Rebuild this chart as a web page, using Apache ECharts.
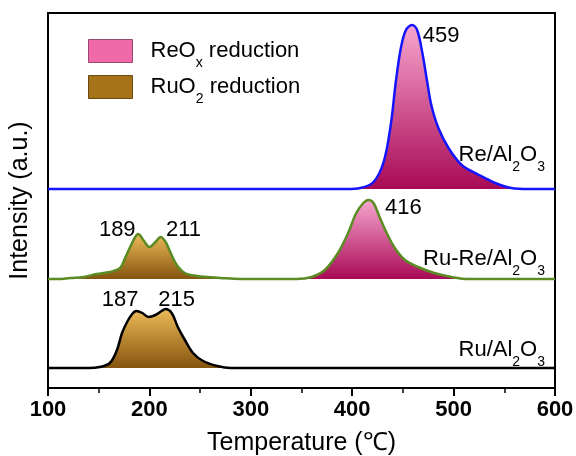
<!DOCTYPE html>
<html>
<head>
<meta charset="utf-8">
<script src="https://cdn.jsdelivr.net/npm/echarts@6/dist/echarts.min.js"></script>
<style>
  html, body { margin: 0; padding: 0; background: #fff; }
  #chart { width: 576px; height: 456px; }
</style>
</head>
<body>
<div id="chart"></div>
<script>
  // x axis
  const xTicks = [100, 200, 300, 400, 500, 600]

  // Re/Al2O3 (offset upward)
  const reTemp = [100, 300, 395, 408, 421, 431, 438, 443, 448, 453, 459, 464, 469, 474, 478, 485, 495, 508, 525, 541, 557, 574, 600]
  const reInt = [0, 0, 0, 1, 7, 27, 64, 107, 141, 159, 164, 159, 137, 107, 84, 61, 41, 24, 14, 6, 1, 0, 0]
  const reOffset = 199

  // Ru-Re/Al2O3
  const ruReTemp = [100, 110, 122, 135, 148, 161, 171, 176, 181, 186, 189, 194, 200, 206, 211, 216, 221, 227, 235, 247, 257, 270, 290,
    345, 360, 373, 386, 396, 404, 411, 416, 421, 427, 434, 442, 452, 465, 481, 498, 515, 540, 600]
  const ruReInt = [0, 0, 1, 2, 5, 7, 11, 21, 32, 42, 45, 39, 32, 37, 42, 37, 26, 14, 6, 3, 2, 1, 0,
    0, 2, 9, 26, 46, 66, 76, 79, 76, 62, 46, 31, 19, 12, 6, 2, 0, 0, 0]
  const ruReOffset = 109

  // Ru/Al2O3
  const ruTemp = [100, 140, 151, 161, 168, 173, 178, 183, 187, 193, 199, 206, 212, 216, 222, 228, 235, 243, 253, 267, 280, 600]
  const ruInt = [0, 0, 1, 5, 18, 35, 46, 54, 57, 55, 51, 53, 57, 59, 55, 41, 28, 15, 7, 2, 0, 0]
  const ruOffset = 20

  // peak labels [temperature, intensity]
  const rePeaks = [[459, 164]]
  const ruRePeaks = [[189, 45], [211, 42], [416, 79]]
  const ruPeaks = [[187, 57], [215, 59]]

  const font = 'Liberation Sans, Arial, sans-serif'

  function pairs (temps, ints, off, lo, hi) {
    const out = []
    for (let i = 0; i < temps.length; i++) {
      if (lo === undefined || (temps[i] >= lo && temps[i] <= hi)) {
        out.push([temps[i], ints[i] + off])
      }
    }
    return out
  }

  const pinkFill = () => new echarts.graphic.LinearGradient(0, 0, 0, 1, [
    { offset: 0, color: '#f7a6cf' },
    { offset: 1, color: '#a80a55' },
  ])
  const goldFill = () => new echarts.graphic.LinearGradient(0, 0, 0, 1, [
    { offset: 0, color: '#edbb58' },
    { offset: 1, color: '#85540e' },
  ])

  function fillSeries (data, off, color) {
    return {
      type: 'line',
      name: 'fill',
      data: data,
      smooth: 0.35,
      showSymbol: false,
      silent: true,
      lineStyle: { width: 0 },
      areaStyle: { origin: off, color: color, opacity: 1 },
      z: 1,
    }
  }

  // label offsets (px) from the peak point
  const peakOffsets = {
    459: [29, 11],
    416: [35, 8],
    189: [-21, -4],
    211: [23, -7],
    187: [-16, -11],
    215: [12, -9],
  }

  function peakMarks (peaks, off) {
    return {
      symbol: 'circle',
      symbolSize: 1,
      itemStyle: { color: 'rgba(0,0,0,0)' },
      silent: true,
      data: peaks.map(p => ({
        coord: [p[0], p[1] + off],
        label: {
          show: true,
          position: 'inside',
          offset: peakOffsets[p[0]],
          formatter: String(p[0]),
          fontSize: 22,
          fontFamily: font,
          color: '#000',
        },
      })),
    }
  }

  function lineSeries (name, data, color, width, marks) {
    return {
      type: 'line',
      name: name,
      data: data,
      smooth: 0.35,
      showSymbol: false,
      silent: true,
      lineStyle: { color: color, width: width },
      itemStyle: { color: color },
      markPoint: marks,
      z: 3,
    }
  }

  const rich = {
    n: { fontSize: 22, lineHeight: 38, fontFamily: font, fontWeight: 'normal', color: '#000' },
    s: { fontSize: 14, lineHeight: 14, fontFamily: font, fontWeight: 'normal', color: '#000', verticalAlign: 'bottom' },
  }

  function sampleTitle (text, top) {
    return {
      text: text,
      right: 31,
      top: top,
      padding: 0,
      textStyle: { fontWeight: 'normal', rich: rich },
    }
  }

  function legendItem (name, top, color, border) {
    return {
      left: 88,
      top: top,
      padding: 0,
      icon: 'rect',
      itemWidth: 44,
      itemHeight: 23,
      selectedMode: false,
      data: [{ name: name, itemStyle: { color: color, borderColor: border, borderWidth: 1 } }],
      formatter: function (n) {
        return n === 'ReOx reduction'
          ? '{n|ReO}{s|x}{n| reduction}'
          : '{n|RuO}{s|2}{n| reduction}'
      },
      textStyle: { rich: rich, padding: [0, 0, 0, 13] },
    }
  }

  const chart = echarts.init(document.getElementById('chart'))
  const option = {
    backgroundColor: '#fff',
    animation: false,
    title: [
      sampleTitle('{n|Re/Al}{s|2}{n|O}{s|3}', 136),
      sampleTitle('{n|Ru-Re/Al}{s|2}{n|O}{s|3}', 240),
      sampleTitle('{n|Ru/Al}{s|2}{n|O}{s|3}', 331),
    ],
    legend: [
      legendItem('ReOx reduction', 39, '#f06aaa', '#9a4a70'),
      legendItem('RuO2 reduction', 75, '#a67319', '#6a4a10'),
    ],
    grid: {
      left: 48,
      right: 21,
      top: 13,
      bottom: 68,
      outerBoundsMode: 'none',
      show: true,
      borderColor: '#000',
      borderWidth: 2,
    },
    xAxis: {
      type: 'value',
      min: xTicks[0],
      max: xTicks[xTicks.length - 1],
      interval: 100,
      name: 'Temperature (℃)',
      nameLocation: 'middle',
      nameGap: 43,
      nameTextStyle: { fontSize: 25, fontFamily: font, color: '#000' },
      axisLine: { show: true, lineStyle: { color: '#000', width: 2 } },
      axisTick: { show: true, inside: false, length: 8, lineStyle: { color: '#000', width: 2 } },
      minorTick: { show: true, splitNumber: 2, length: 5, lineStyle: { color: '#000', width: 1.5 } },
      axisLabel: { fontSize: 22, fontWeight: 'bold', fontFamily: font, color: '#000', margin: 11 },
      splitLine: { show: false },
    },
    yAxis: {
      type: 'value',
      min: 0,
      max: 375,
      name: 'Intensity (a.u.)',
      nameLocation: 'middle',
      nameGap: 15,
      nameTextStyle: { fontSize: 25, fontFamily: font, color: '#000' },
      axisLine: { show: true, lineStyle: { color: '#000', width: 2 } },
      axisTick: { show: false },
      axisLabel: { show: false },
      splitLine: { show: false },
    },
    series: [
      { type: 'bar', name: 'ReOx reduction', data: [], itemStyle: { color: '#f06aaa' } },
      { type: 'bar', name: 'RuO2 reduction', data: [], itemStyle: { color: '#a67319' } },
      fillSeries(pairs(reTemp, reInt, reOffset, 395, 574), reOffset, pinkFill()),
      fillSeries(pairs(ruReTemp, ruReInt, ruReOffset, 110, 290), ruReOffset, goldFill()),
      fillSeries(pairs(ruReTemp, ruReInt, ruReOffset, 345, 515), ruReOffset, pinkFill()),
      fillSeries(pairs(ruTemp, ruInt, ruOffset, 140, 280), ruOffset, goldFill()),
      lineSeries('Re/Al2O3', pairs(reTemp, reInt, reOffset), '#1414ff', 2.5, peakMarks(rePeaks, reOffset)),
      lineSeries('Ru-Re/Al2O3', pairs(ruReTemp, ruReInt, ruReOffset), '#5b8c23', 2.5, peakMarks(ruRePeaks, ruReOffset)),
      lineSeries('Ru/Al2O3', pairs(ruTemp, ruInt, ruOffset), '#000', 2.5, peakMarks(ruPeaks, ruOffset)),
    ],
  }
  chart.setOption(option)
</script>
</body>
</html>
